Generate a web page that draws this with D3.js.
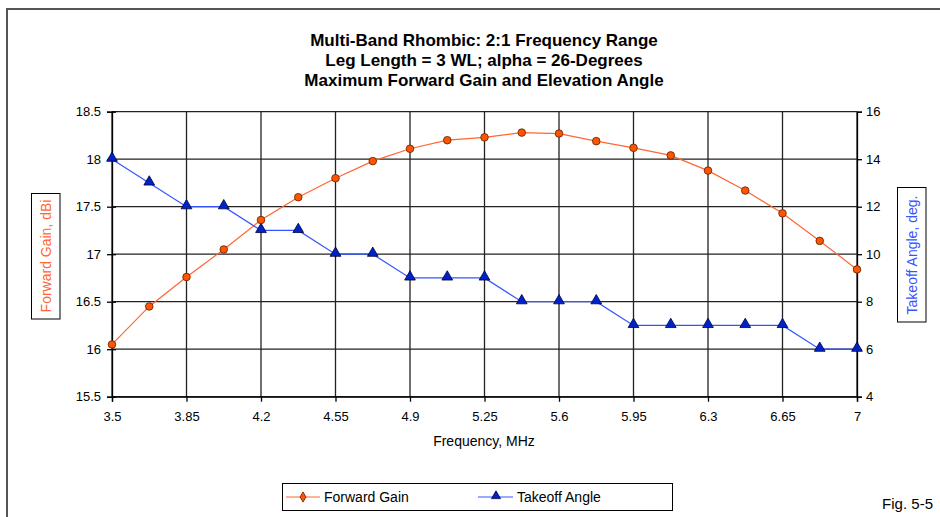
<!DOCTYPE html>
<html><head><meta charset="utf-8">
<script src="https://cdn.jsdelivr.net/npm/d3@7"></script>
<style>
body{margin:0;background:#fff;}
svg{display:block;}
text{font-family:"Liberation Sans",Arial,sans-serif;}
</style></head><body>
<svg id="c" width="940" height="517"></svg>
<script>
const freqs = [3.5,3.675,3.85,4.025,4.2,4.375,4.55,4.725,4.9,5.075,5.25,5.425,5.6,5.775,5.95,6.125,6.3,6.475,6.65,6.825,7.0];
const gain = [16.05,16.45,16.76,17.05,17.36,17.60,17.80,17.98,18.11,18.20,18.23,18.28,18.27,18.19,18.12,18.04,17.88,17.67,17.43,17.14,16.84];
const angle = [14,13,12,12,11,11,10,10,9,9,9,8,8,8,7,7,7,7,7,6,6];
const xTicks = [3.5,3.85,4.2,4.55,4.9,5.25,5.6,5.95,6.3,6.65,7];
const yLeftTicks = [15.5,16,16.5,17,17.5,18,18.5];
const yRightTicks = [4,6,8,10,12,14,16];
const titleLines = ["Multi-Band Rhombic: 2:1 Frequency Range","Leg Length = 3 WL; alpha = 26-Degrees","Maximum Forward Gain and Elevation Angle"];

const svg = d3.select("#c");
const L=112, R=857, T=111.7, B=396.7;
const x = d3.scaleLinear().domain([3.5,7]).range([L,R]);
const yL = d3.scaleLinear().domain([15.5,18.5]).range([B,T]);
const yR = d3.scaleLinear().domain([4,16]).range([B,T]);
const gainCol="#FF6633", angCol="#3355FF";

// outer frame
svg.append("path").attr("d","M7,520 L7,9 L945,9").attr("fill","none").attr("stroke","#555").attr("stroke-width",2);

// title
svg.append("g").selectAll("text").data(titleLines).join("text")
  .attr("x",484).attr("y",(d,i)=>46+i*20).attr("text-anchor","middle")
  .attr("font-weight","bold").attr("font-size",17).attr("fill","#000").text(d=>d);

// grid
const g = svg.append("g");
g.selectAll("line.h").data(yLeftTicks).join("line").attr("class","h")
  .attr("x1",L).attr("x2",R).attr("y1",d=>yL(d)).attr("y2",d=>yL(d)).attr("stroke","#222").attr("stroke-width",1.3);
g.selectAll("line.v").data(xTicks).join("line").attr("class","v")
  .attr("x1",d=>x(d)).attr("x2",d=>x(d)).attr("y1",T).attr("y2",B).attr("stroke","#222").attr("stroke-width",1.3);

// axes
const axL = d3.axisLeft(yL).tickValues(yLeftTicks).tickSize(5).tickPadding(6).tickFormat(d3.format("~g"));
const gL = svg.append("g").attr("transform",`translate(${L},0)`).call(axL);
const axR = d3.axisRight(yR).tickValues(yRightTicks).tickSize(5).tickPadding(4).tickFormat(d3.format("~g"));
const gR = svg.append("g").attr("transform",`translate(${R},0)`).call(axR);
const axB = d3.axisBottom(x).tickValues(xTicks).tickSize(5).tickPadding(10).tickFormat(d3.format("~g"));
const gB = svg.append("g").attr("transform",`translate(0,${B})`).call(axB);
[gL,gR,gB].forEach(a=>{
  a.select(".domain").attr("stroke","#000").attr("stroke-width",1.3);
  a.selectAll(".tick line").attr("stroke","#000").attr("stroke-width",1.3);
  a.selectAll("text").attr("font-size",13).attr("fill","#000").style("font-family","'Liberation Sans',Arial,sans-serif");
});
gL.selectAll(".tick line").attr("x1",4);

// axis titles
svg.append("text").attr("x",484).attr("y",446).attr("text-anchor","middle").attr("font-size",14).text("Frequency, MHz");
svg.append("rect").attr("x",31.5).attr("y",193.5).attr("width",28.5).attr("height",125.5).attr("fill","#fff").attr("stroke","#000").attr("stroke-width",1);
svg.append("text").attr("transform","translate(50.5,256) rotate(-90)").attr("text-anchor","middle").attr("font-size",14).attr("fill",gainCol).text("Forward Gain,  dBi");
svg.append("rect").attr("x",897.5).attr("y",187.5).attr("width",28.5).attr("height",134.5).attr("fill","#fff").attr("stroke","#000").attr("stroke-width",1);
svg.append("text").attr("transform","translate(916.5,255) rotate(-90)").attr("text-anchor","middle").attr("font-size",14).attr("fill",angCol).text("Takeoff Angle,  deg.");

// series
const lineG = d3.line().x((d,i)=>x(freqs[i])).y(d=>yL(d));
const lineA = d3.line().x((d,i)=>x(freqs[i])).y(d=>yR(d));
svg.append("path").datum(gain).attr("d",lineG).attr("fill","none").attr("stroke",gainCol).attr("stroke-width",1.2);
svg.append("path").datum(angle).attr("d",lineA).attr("fill","none").attr("stroke",angCol).attr("stroke-width",1.2);
const tri = d3.symbol().type(d3.symbolTriangle).size(50);
svg.append("g").selectAll("path").data(angle).join("path")
  .attr("transform",(d,i)=>`translate(${x(freqs[i])},${yR(d)-1})`).attr("d",tri)
  .attr("fill","#0022CC").attr("stroke","#000033").attr("stroke-width",0.8);
svg.append("g").selectAll("circle").data(gain).join("circle")
  .attr("cx",(d,i)=>x(freqs[i])).attr("cy",d=>yL(d)).attr("r",3.8)
  .attr("fill","#FF5500").attr("stroke","#5a2000").attr("stroke-width",0.8);

// legend
const lg = svg.append("g");
lg.append("rect").attr("x",282.5).attr("y",483.5).attr("width",390).attr("height",27).attr("fill","#fff").attr("stroke","#000").attr("stroke-width",1);
lg.append("line").attr("x1",286).attr("x2",320).attr("y1",497).attr("y2",497).attr("stroke",gainCol).attr("stroke-width",1.2);
lg.append("path").attr("d",d3.symbol().type(d3.symbolDiamond).size(30)()).attr("transform","translate(303,497)").attr("fill","#FF5500").attr("stroke","#5a2000").attr("stroke-width",0.8);
lg.append("text").attr("x",324).attr("y",502).attr("font-size",14).text("Forward Gain");
lg.append("line").attr("x1",478).attr("x2",513).attr("y1",497).attr("y2",497).attr("stroke",angCol).attr("stroke-width",1.2);
lg.append("path").attr("d",d3.symbol().type(d3.symbolTriangle).size(35)()).attr("transform","translate(496,496)").attr("fill","#0022CC").attr("stroke","#000033").attr("stroke-width",0.8);
lg.append("text").attr("x",517).attr("y",502).attr("font-size",14).text("Takeoff Angle");

svg.append("text").attr("x",882).attr("y",509).attr("font-size",15).attr("textLength",51).text("Fig. 5-5");
</script></body></html>
